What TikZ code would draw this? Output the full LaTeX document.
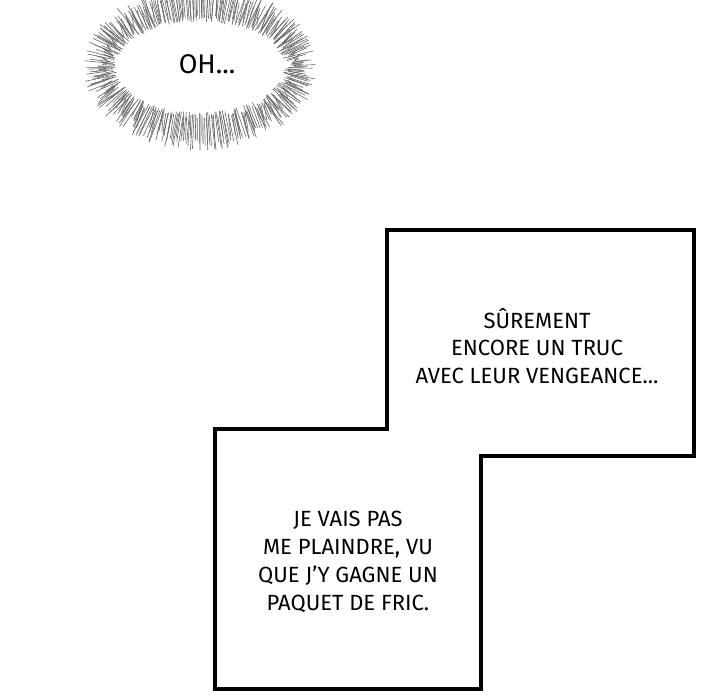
\documentclass[tikz,border=0pt]{standalone}
\usepackage{fontspec}
\setmainfont{Fira Sans}
\begin{document}
\begin{tikzpicture}[x=0.5pt,y=-0.5pt,
  panel/.style={line width=1.6pt,line join=miter},
  speech/.style={align=center,font=\fontsize{11}{13.9}\selectfont},
  ray/.style={black!60,line width=0.3pt}]
\useasboundingbox (0,0) rectangle (720,700);
\clip (0,0) rectangle (720,700);
\pgfmathsetseed{4242}

% burst around OH...
\foreach \i in {0,...,419}{
  \pgfmathsetmacro{\t}{\i*0.857143+rnd*0.9}
  \pgfmathsetmacro{\s}{0.98+0.14*rnd}
  \pgfmathsetmacro{\e}{0.86+0.18*rnd}
  \draw[ray] ({200+85*\s*cos(\t)},{67+46*\s*sin(\t)}) -- ({200+112*\e*cos(\t)},{67+81*\e*sin(\t)});
}
\node[font=\fontsize{13.5}{15}\selectfont] (oh) at (207,64) {OH...};

% the two panels
\draw[panel] (387,230) -- (694,230) -- (694,456) -- (481,456) -- (481,689)
  -- (215,689) -- (215,429) -- (387,429) -- cycle;

\node[speech] (vengeance) at (537,346) {SÛREMENT\\ENCORE UN TRUC\\AVEC LEUR VENGEANCE...};
\node[speech] (fric) at (348,562) {JE VAIS PAS\\ME PLAINDRE, VU\\QUE J'Y GAGNE UN\\PAQUET DE FRIC.};
\end{tikzpicture}
\end{document}
